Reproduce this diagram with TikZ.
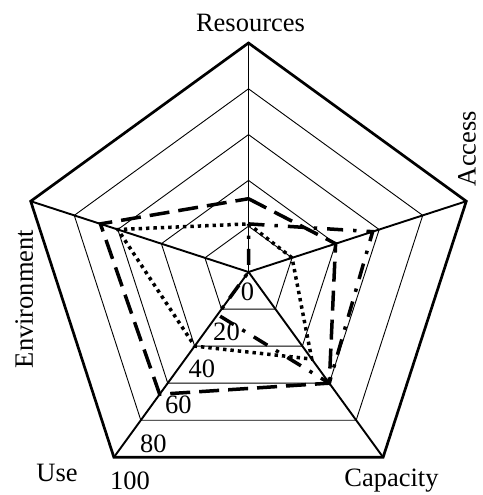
\documentclass[tikz,border=0pt]{standalone}
\usepackage{fontspec}
\setmainfont{Liberation Serif}
\tikzset{
	ring/.style={draw=black, line width=0.9pt},
	outerring/.style={draw=black, line width=2.7pt},
	spoke/.style={draw=black, line width=1.9pt},
	axislabel/.style={
		font=\fontsize{26.5}{30}\selectfont,
		inner sep=0pt,
		anchor=base},
	ticklabel/.style={axislabel},
	seriesdash/.style={draw=black, line width=3.5pt, dash pattern=on 20pt off 9pt},
	seriesdot/.style={draw=black, line width=3.5pt, dash pattern=on 3.4pt off 4pt},
	seriesdashdot/.style={draw=black, line width=3.5pt, dash pattern=on 16pt off 10pt on 3.4pt off 10pt},
}
\begin{document}
\begin{tikzpicture}
		[x=2.29pt,y=2.29pt]
		\useasboundingbox (-248.5pt,-223pt) rectangle (233.5pt,272pt);
		% grid
		\foreach \r in {20,40,60,80}
			\draw[ring] (90:\r) -- (18:\r) -- (-54:\r) -- (-126:\r) -- (162:\r) -- cycle;
		\draw[outerring] (90:100) -- (18:100) -- (-54:100) -- (-126:100) -- (162:100) -- cycle;
		\foreach \a in {90,18,-54,-126,162}
			\draw[spoke] (0,0) -- (\a:100);
		
		% series
		\draw[seriesdash] (90:32) -- (18:40) -- (-54:60) -- (-126:66) -- (162:68) -- cycle;
		\draw[seriesdot] (90:21) -- (18:20) -- (-54:47) -- (-126:40) -- (162:60) -- cycle;
		\draw[seriesdashdot] (90:21) -- (18:57) -- (-54:60) -- (-126:23) -- (0,0) -- cycle;
		
		\node[axislabel] (resources) at (2pt,240pt) {Resources};
		\node[axislabel, rotate=90] (access) at (227pt,123.5pt) {Access};
		\node[axislabel] (capacity) at (143pt,-214.7pt) {Capacity};
		\node[axislabel] (use) at (-191.5pt,-209.7pt) {Use};
		\node[axislabel, rotate=90] (environment) at (-215.5pt,-27pt) {Environment};
		\foreach \v/\px/\py in {0/-1/-28, 20/-22/-68, 40/-46.5/-105, 60/-70/-141, 80/-95/-180, 100/-118.5/-217}
			\node[ticklabel] (tick\v) at (\px pt,\py pt) {\v};
\end{tikzpicture}
\end{document}
